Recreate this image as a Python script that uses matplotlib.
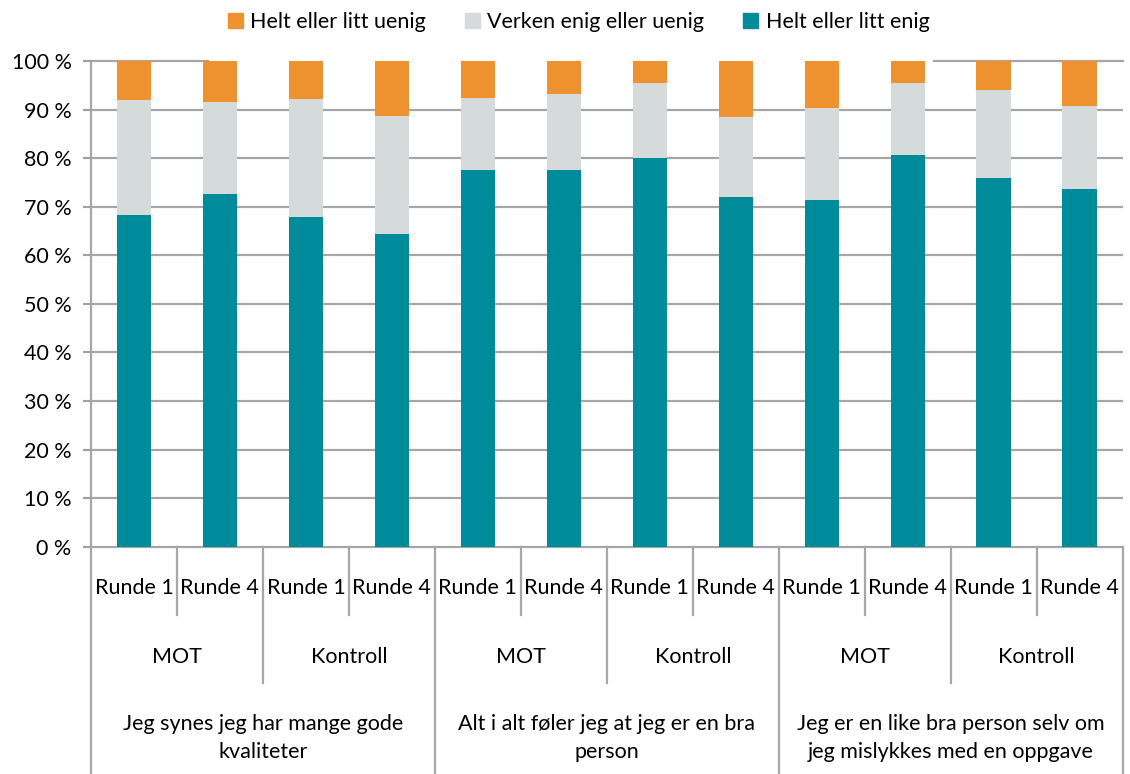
import matplotlib
matplotlib.use("Agg")
import matplotlib.pyplot as plt
import matplotlib.transforms as mtransforms
from matplotlib.patches import Patch
import numpy as np

plt.rcParams['font.family'] = ['Lato', 'DejaVu Sans']

rounds = ["Runde 1", "Runde 4"] * 6
groups = ["MOT", "Kontroll"] * 3
questions = ["Jeg synes jeg har mange gode\nkvaliteter",
             "Alt i alt føler jeg at jeg er en bra\nperson",
             "Jeg er en like bra person selv om\njeg mislykkes med en oppgave"]

enig = [68.3, 72.6, 67.8, 64.3, 77.6, 77.6, 80.0, 72.0, 71.3, 80.7, 75.9, 73.6]
verken = [23.8, 18.9, 24.5, 24.3, 14.9, 15.7, 15.5, 16.4, 19.0, 14.7, 18.1, 17.2]
uenig = [100 - a - b for a, b in zip(enig, verken)]

labels = ["Helt eller litt uenig", "Verken enig eller uenig", "Helt eller litt enig"]
c_uenig = "#ED922E"
c_verken = "#D5DBDB"
c_enig = "#008B9B"

FS = 15.5

fig = plt.figure(figsize=(11.3, 7.74), dpi=100)
ax = fig.add_axes([0.0805, 0.2937, 0.913, 0.6273])

x = np.arange(len(enig))
w = 0.4
ax.bar(x, enig, w, color=c_enig, zorder=3)
ax.bar(x, verken, w, bottom=enig, color=c_verken, zorder=3)
ax.bar(x, uenig, w, bottom=np.array(enig) + np.array(verken), color=c_uenig, zorder=3)

ax.set_xlim(-0.5, len(enig) - 0.5)
ax.set_ylim(0, 100)
ax.set_yticks(np.arange(0, 101, 10))
ax.set_yticklabels([f"{v} %" for v in range(0, 101, 10)], fontsize=FS)
ax.tick_params(axis='y', length=6, color='#A0A0A0', width=1.5, pad=8)
ax.set_xticks([])
grid_c = '#A6A6A6'
for v in range(10, 100, 10):
    ax.axhline(v, color=grid_c, lw=1.6, zorder=1)
ax.axhline(100, xmin=0, xmax=0.113, color=grid_c, lw=1.6, zorder=1, clip_on=False)
ax.axhline(100, xmin=0.817, xmax=1.0, color=grid_c, lw=1.6, zorder=1, clip_on=False)
for s in ['top', 'right']:
    ax.spines[s].set_visible(False)
for s in ['left', 'bottom']:
    ax.spines[s].set_color(grid_c)
    ax.spines[s].set_linewidth(1.6)

trans = mtransforms.blended_transform_factory(ax.transData, fig.transFigure)
y_axis = 0.2937
y_short = 1 - 615 / 774
y_mid = 1 - 683 / 774
y_long = 0.0

for i in range(len(enig) + 1):
    b = i - 0.5
    if i % 4 == 0:
        y_end = y_long
    elif i % 2 == 0:
        y_end = y_mid
    else:
        y_end = y_short
    ax.plot([b, b], [y_axis, y_end], transform=trans, color=grid_c, lw=1.6, clip_on=False)

for i, r in enumerate(rounds):
    fig.text(i, 1 - 588 / 774, r, transform=trans, ha='center', va='center', fontsize=FS)
for j, g in enumerate(groups):
    fig.text(2 * j + 0.5, 1 - 657 / 774, g, transform=trans, ha='center', va='center', fontsize=FS)
for k, q in enumerate(questions):
    fig.text(4 * k + 1.5, 1 - 738 / 774, q, transform=trans, ha='center', va='center',
             fontsize=FS, linespacing=1.45)

handles = [Patch(color=c_uenig), Patch(color=c_verken), Patch(color=c_enig)]
fig.legend(handles, labels, loc='center', bbox_to_anchor=(0.512, 0.972), ncol=3,
           frameon=False, fontsize=FS, handlelength=0.7, handleheight=0.7,
           handletextpad=0.35, columnspacing=1.8)

fig.savefig("out.png", dpi=100)
